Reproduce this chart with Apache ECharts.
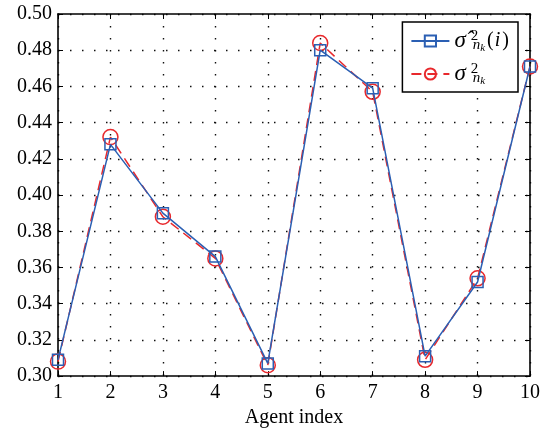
<!DOCTYPE html>
<html><head><meta charset="utf-8">
<script src="https://cdn.jsdelivr.net/npm/echarts@6/dist/echarts.min.js"></script>
<style>html,body{margin:0;padding:0;background:#fff}#c{width:553px;height:433px}</style>
</head><body><div id="c"></div>
<script>
const agents = [1,2,3,4,5,6,7,8,9,10];
const estimated = [0.309,0.428,0.390,0.366,0.307,0.480,0.459,0.311,0.352,0.471];
const actual    = [0.308,0.432,0.388,0.365,0.306,0.484,0.457,0.309,0.354,0.471];
const yTicks = [0.30,0.32,0.34,0.36,0.38,0.40,0.42,0.44,0.46,0.48,0.50];

const BLUE = '#2b5fb3', RED = '#e8282c';
const font = 'Liberation Serif';
const chart = echarts.init(document.getElementById('c'));
const axisLine = {show:true, onZero:false, lineStyle:{color:'#000', width:1.6}};
const tick = {show:true, inside:true, length:5, lineStyle:{color:'#000', width:1}};
const dots = {show:true, lineStyle:{color:'#111', type:[1.5,10.5], width:1.4}};
chart.setOption({
  animation:false,
  backgroundColor:'#fff',
  grid:{left:58, right:23, top:14, bottom:51},
  legend:{
    orient:'vertical', right:35, top:22,
    backgroundColor:'#fff', borderColor:'#000', borderWidth:1.5,
    padding:[7,9,5,8], itemGap:8, itemWidth:38, itemHeight:14,
    data:['est','act'],
    formatter: n => n==='est'
      ? '{s|σ̂}{sup|2}{sub|n}{ss|k}{p|(}{pi|i}{p|)}'
      : '{s|σ}{sup|2}{sub|n}{ss|k}',
    textStyle:{
      fontFamily:font, color:'#000',
      rich:{
        s:{fontFamily:font, fontStyle:'italic', fontSize:23, color:'#000'},
        sup:{fontFamily:font, fontSize:15, color:'#000', width:0, padding:[0,0,9,5]},
        sub:{fontFamily:font, fontStyle:'italic', fontSize:15, color:'#000', padding:[9,0,0,2]},
        ss:{fontFamily:font, fontStyle:'italic', fontSize:11, color:'#000', padding:[15,0,0,0]},
        p:{fontFamily:font, fontSize:20, color:'#000', padding:[0,0,0,2]},
        pi:{fontFamily:font, fontStyle:'italic', fontSize:20, color:'#000', padding:[0,0,0,1]}
      }
    }
  },
  xAxis:[{
    type:'value', min:1, max:10, interval:1,
    name:'Agent index', nameLocation:'middle', nameGap:30,
    nameTextStyle:{fontFamily:font, fontSize:20, color:'#000'},
    axisLine, axisTick:tick,
    axisLabel:{fontFamily:font, fontSize:20, color:'#000', margin:7},
    splitLine:dots
  },{
    type:'value', min:1, max:10, interval:1, position:'top',
    axisLine, axisTick:tick, axisLabel:{show:false}, splitLine:{show:false}
  }],
  yAxis:[{
    type:'value', min:0.30, max:0.50, interval:0.02,
    axisLine, axisTick:tick,
    axisLabel:{fontFamily:font, fontSize:20, color:'#000', margin:6,
      formatter: v => { const t = yTicks.find(x => Math.abs(x-v)<1e-9); return (t!==undefined?t:v).toFixed(2); }},
    splitLine:dots
  },{
    type:'value', min:0.30, max:0.50, interval:0.02, position:'right',
    axisLine, axisTick:tick, axisLabel:{show:false}, splitLine:{show:false}
  }],
  series:[{
    name:'est', type:'line', z:3,
    data: agents.map((a,i)=>[a, estimated[i]]),
    symbol:'rect', symbolSize:11,
    itemStyle:{color:'rgba(0,0,0,0)', borderColor:BLUE, borderWidth:1.5},
    lineStyle:{color:BLUE, width:1.5}
  },{
    name:'act', type:'line', z:2,
    data: agents.map((a,i)=>[a, actual[i]]),
    symbol:'circle', symbolSize:15,
    itemStyle:{color:'rgba(0,0,0,0)', borderColor:RED, borderWidth:1.5},
    lineStyle:{color:RED, width:1.5, type:[10,6]}
  }]
});
</script></body></html>
